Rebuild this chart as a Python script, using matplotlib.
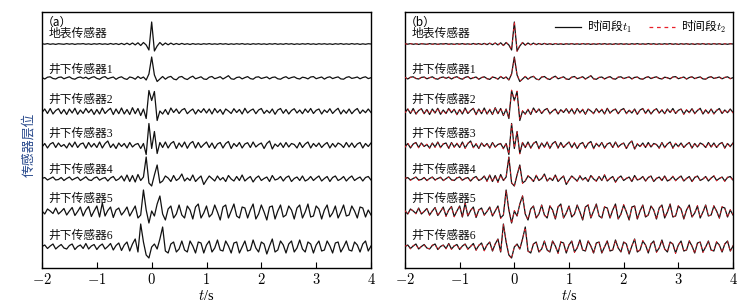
import numpy as np
import matplotlib
matplotlib.use('Agg')
from matplotlib import pyplot as plt
from matplotlib.lines import Line2D
from matplotlib.font_manager import FontProperties

plt.rcParams['font.family'] = ['Liberation Serif', 'Noto Sans CJK SC']
plt.rcParams['mathtext.fontset'] = 'cm'

# sample times (s), one value every 0.05 s from -2 to 4
t = np.linspace(-2, 4, 121)

names = ['地表传感器', '井下传感器1', '井下传感器2', '井下传感器3',
         '井下传感器4', '井下传感器5', '井下传感器6']
xticks = [-2, -1, 0, 1, 2, 3, 4]

# amplitudes, time segment t1 (black)
s0 = [0.3, -0.2, 0.4, -0.3, 0.2, -0.4, 0.3, 0.0, -0.3, 0.4,
      -0.2, 0.3, -0.4, 0.2, 0.0, 0.4, -0.3, 0.2, -0.4, 0.3,
      -0.2, 0.4, -0.3, 0.2, -0.4, 0.5, -0.3, 0.4, -0.5, 0.6,
      -0.6, 0.8, -0.7, 1.0, -0.9, 1.2, -1.5, 1.5, -1.0, -6.0,
      22.0, -7.0, -2.0, 1.5, -1.2, 1.0, -0.8, 0.9, -0.6, 0.5,
      -0.5, 0.6, -0.4, 0.3, -0.5, 0.4, -0.3, 0.2, -0.4, 0.3,
      -0.2, 0.4, -0.3, 0.2, -0.3, 0.4, -0.2, 0.3, -0.4, 0.2,
      -0.3, 0.3, -0.2, 0.4, -0.3, 0.2, -0.4, 0.3, -0.2, 0.3,
      -0.3, 0.2, -0.4, 0.3, -0.2, 0.4, -0.3, 0.2, -0.3, 0.4,
      -0.2, 0.3, -0.4, 0.2, -0.3, 0.3, -0.2, 0.4, -0.3, 0.2,
      -0.4, 0.3, -0.2, 0.3, -0.3, 0.2, -0.4, 0.3, -0.2, 0.4,
      -0.3, 0.2, -0.3, 0.4, -0.2, 0.3, -0.4, 0.2, -0.3, 0.3,
      0.0]
s1 = [0.5, -1.0, 0.8, 1.2, -0.5, -1.0, 0.6, 1.0, -0.8, 0.3,
      1.2, -0.6, -1.2, 0.4, 1.0, -0.3, 0.8, -1.0, 0.5, 1.3,
      -0.4, -1.2, 0.6, 1.4, -0.8, 0.2, 1.0, -1.3, 0.4, 1.2,
      -0.6, -1.4, 1.0, 0.3, -1.2, 1.5, -0.5, 1.0, -2.0, 4.0,
      21.0, 3.0, -3.5, -1.0, 1.5, -1.2, 0.8, 1.6, -1.0, -1.8,
      0.9, 1.5, -0.6, -1.5, 0.5, 1.8, -0.8, 0.2, 1.2, -1.0,
      -1.4, 0.8, 1.5, -0.7, 0.2, 1.3, -1.0, 0.6, 2.3, -0.8,
      -1.3, 0.5, 1.0, -0.9, 0.4, 1.4, -0.6, -1.2, 0.8, 1.2,
      -0.5, 0.3, 1.1, -0.9, 0.6, 1.0, -0.8, -1.2, 0.4, 1.3,
      -0.6, 0.5, 1.2, -0.4, -1.0, 0.8, 0.3, -0.9, 1.0, 1.4,
      -0.7, 0.2, 1.0, -1.1, 0.5, 1.2, -0.6, 0.4, 1.1, -0.9,
      -1.2, 0.6, 1.3, -0.4, 0.2, 1.0, -0.8, 0.5, 1.2, -0.6,
      0.3]
s2 = [-1.0, 2.5, -2.0, 3.0, -2.5, 1.0, 2.8, -2.2, 2.0, -3.0,
      2.5, -1.5, 3.2, -2.8, 1.5, -2.0, 3.0, -1.2, 2.2, -3.0,
      2.0, -2.5, 3.5, -2.0, 1.0, 3.2, -3.0, 2.5, -2.2, 3.5,
      -2.5, 2.0, -3.0, 3.8, -2.2, 3.0, -4.0, 2.5, -7.0, 21.0,
      11.0, 20.0, -9.0, 0.5, -2.5, 2.0, -3.0, 3.5, -1.0, 2.5,
      -2.0, 1.5, 3.0, -2.2, 0.5, 2.5, -2.5, 1.8, -1.0, 2.8,
      -1.5, 2.5, -2.5, 3.0, -1.2, 2.0, -2.8, 2.5, 0.5, -2.0,
      2.8, -1.0, 2.0, -2.5, 3.2, -1.5, 1.0, 2.5, -2.2, 1.5,
      3.0, -2.0, 1.2, -1.5, 2.5, -2.8, 1.5, 3.0, -1.8, 2.0,
      -2.5, 1.0, 2.8, -1.5, 1.5, -2.2, 2.5, -1.0, 3.0, -2.0,
      1.2, 2.5, -2.5, 1.5, -1.0, 2.8, -2.0, 1.0, 3.2, -2.5,
      1.5, -1.8, 2.5, -2.2, 1.0, 3.0, -2.0, 1.5, -1.2, 2.5,
      -1.0]
s3 = [-1.5, 2.0, -2.5, 1.5, 3.0, -2.0, 2.5, -1.0, 1.0, -2.5,
      2.5, -1.5, 3.5, -2.0, 1.5, 2.5, -2.8, 3.0, -1.5, 2.0,
      -2.0, 3.5, -2.5, 2.0, 4.5, -2.0, 1.5, -3.0, 2.5, -1.0,
      2.0, -2.5, 3.0, -1.5, 1.0, 2.0, -3.0, 2.0, -9.0, 22.0,
      -3.0, 14.0, -8.0, 3.0, -2.0, 3.5, -2.5, 2.0, 4.0, -3.0,
      2.5, -1.5, 3.5, -2.8, 2.0, 4.0, -2.5, 3.0, -2.0, 1.0,
      3.5, -2.0, 2.5, -3.0, 1.5, 3.0, -2.5, 2.0, 4.0, -3.0,
      2.0, -1.0, 3.0, -2.5, 1.5, 2.8, -2.0, 3.5, -1.5, 1.0,
      2.5, -3.0, 2.0, 4.5, -3.5, 1.5, -1.0, 2.5, -2.0, 3.0,
      -1.5, 2.0, 1.0, -2.5, 3.0, -2.0, 1.5, 3.5, -2.5, 2.0,
      -1.0, 2.5, -2.0, 1.0, 3.0, -2.5, 2.0, -1.5, 2.5, 1.0,
      -2.0, 3.0, -1.5, 2.5, -2.0, 1.5, 3.0, -2.5, 2.0, -1.0,
      2.5]
s4 = [0.5, 1.5, -1.0, 0.5, 2.0, -1.0, -0.5, 1.5, -1.5, 0.5,
      2.0, -1.0, 0.5, 1.8, -1.5, 0.3, 2.2, -0.8, -1.5, 1.0,
      2.0, -1.2, 0.5, 1.5, -2.0, 1.0, 2.5, -1.5, 0.0, 3.0,
      -2.0, 4.0, -2.5, 3.5, -3.0, 4.5, -1.5, 2.0, 22.0, -4.0,
      -7.0, 4.0, 14.0, -4.0, -2.0, 3.0, 1.0, -2.5, 3.5, -1.5,
      0.5, 5.0, -2.0, 1.0, -1.5, 4.0, -2.5, 0.5, 3.0, -5.5,
      -1.0, 3.0, 0.5, -2.0, 3.0, -1.0, 1.5, -2.5, 3.5, 0.0,
      -2.0, 2.5, -1.5, 4.0, -2.0, 0.5, 2.5, -3.0, 1.0, 3.0,
      -1.5, 0.5, 2.0, -2.5, 3.5, -1.0, 0.0, 2.5, -2.0, 1.5,
      3.0, -2.5, 0.5, 2.0, -1.5, 3.0, -2.0, -0.5, 2.5, -1.5,
      1.0, 3.0, -2.0, 0.5, 2.5, -2.5, 1.5, 3.0, -1.5, 0.0,
      2.5, -2.0, 1.0, 3.0, -1.5, 0.5, 2.0, -2.0, 1.5, 2.5,
      -1.0]
s5 = [1.0, -2.0, 3.0, 1.0, -1.5, 4.0, -2.0, 0.5, 3.5, -3.0,
      1.0, 4.5, -3.5, 0.5, 5.0, -4.0, 2.0, 5.5, -4.5, 1.0,
      6.0, -5.0, 9.0, -4.0, 1.5, 5.0, -5.5, 2.0, 4.0, -3.0,
      0.5, 5.0, -4.0, 1.0, 6.0, -6.0, -3.0, 22.0, 2.0, -11.0,
      1.0, -4.0, 8.0, 16.0, -2.0, -8.0, 3.0, 6.0, -6.0, -2.0,
      7.0, -3.0, -6.0, 6.0, 2.0, -7.0, 5.0, 8.0, -6.0, -1.0,
      6.0, -5.0, -2.0, 7.0, 0.0, -8.0, 5.0, 7.0, -6.0, 1.0,
      8.0, -4.0, -6.0, 5.0, 4.0, -6.0, 2.0, 8.0, -7.0, -2.0,
      7.0, 0.0, -8.0, 5.0, 6.0, -7.0, 1.0, 7.0, -5.0, -3.0,
      6.0, 2.0, -7.0, 4.0, 7.0, -6.0, 0.0, 8.0, -5.0, -4.0,
      6.0, 3.0, -7.0, 2.0, 7.0, -5.0, -1.0, 6.0, -6.0, 0.0,
      7.0, -4.0, -3.0, 6.0, 1.0, -6.0, 5.0, 4.0, -5.0, 2.0,
      -3.0]
s6 = [0.5, 2.0, -1.5, 1.0, 3.0, -2.0, 0.5, 2.5, -1.0, -2.0,
      1.5, 3.0, -2.5, 0.5, 2.0, -1.5, 3.5, -2.0, 1.0, 2.5,
      -2.5, 1.0, 3.0, -2.0, 0.5, 3.5, -3.0, 1.5, 4.0, -3.5,
      2.0, 5.0, -4.0, 3.0, 8.0, -5.0, 23.0, 5.0, -8.0, -11.0,
      0.0, 3.0, -2.0, 8.0, 20.0, -4.0, -6.0, 3.0, 5.0, -5.0,
      -2.0, 6.0, -3.0, -5.0, 6.0, 1.0, -6.0, 5.0, 4.0, -6.0,
      2.0, 6.0, -5.0, -1.0, 7.0, -3.0, -4.0, 6.0, 1.0, -6.0,
      4.0, 5.0, -6.0, 0.0, 6.0, -4.0, -3.0, 7.0, -1.0, -5.0,
      5.0, 3.0, -7.0, 1.0, 8.0, -5.0, -3.0, 6.0, 2.0, -6.0,
      3.0, 6.0, -5.0, -1.0, 7.0, -2.0, -5.0, 5.0, 3.0, -6.0,
      2.0, 6.0, -4.0, -3.0, 6.0, 1.0, -6.0, 4.0, 5.0, -5.0,
      0.0, 6.0, -3.0, -4.0, 5.0, 2.0, -5.0, 3.0, 6.0, -4.0,
      1.0]

# time segment t2 (red dashed)
r0 = [0.2, -0.3, 0.4, -0.2, 0.3, -0.4, 0.2, 0.1, -0.3, 0.3,
      -0.3, 0.3, -0.3, 0.2, -0.1, 0.4, -0.3, 0.3, -0.4, 0.2,
      -0.3, 0.4, -0.2, 0.3, -0.4, 0.4, -0.3, 0.5, -0.5, 0.5,
      -0.7, 0.8, -0.6, 1.0, -1.0, 1.1, -1.4, 1.6, -1.2, -5.5,
      22.5, -7.5, -1.5, 1.4, -1.0, 1.1, -0.7, 0.8, -0.7, 0.6,
      -0.4, 0.5, -0.5, 0.3, -0.4, 0.5, -0.3, 0.3, -0.4, 0.2,
      -0.3, 0.3, -0.4, 0.3, -0.2, 0.4, -0.3, 0.3, -0.3, 0.3,
      -0.2, 0.4, -0.3, 0.3, -0.4, 0.3, -0.3, 0.2, -0.3, 0.4,
      -0.2, 0.3, -0.3, 0.2, -0.3, 0.3, -0.4, 0.3, -0.2, 0.3,
      -0.3, 0.2, -0.3, 0.3, -0.4, 0.2, -0.3, 0.3, -0.2, 0.3,
      -0.3, 0.4, -0.3, 0.2, -0.2, 0.3, -0.3, 0.2, -0.3, 0.3,
      -0.2, 0.3, -0.4, 0.3, -0.3, 0.2, -0.3, 0.3, -0.2, 0.2,
      0.0]
r1 = [0.8, -1.2, 0.5, 1.4, -0.3, -1.2, 0.9, 0.8, -1.0, 0.5,
      1.0, -0.8, -1.0, 0.7, 0.8, -0.5, 1.1, -0.8, 0.3, 1.5,
      -0.2, -1.4, 0.9, 1.2, -1.0, 0.5, 0.8, -1.1, 0.7, 1.0,
      -0.9, -1.2, 1.3, 0.0, -1.0, 1.7, -0.8, 1.2, -1.8, 4.5,
      20.5, 3.5, -3.0, -1.3, 1.7, -0.9, 0.6, 1.9, -1.3, -1.5,
      1.2, 1.2, -0.9, -1.3, 0.8, 1.5, -0.5, 0.5, 0.9, -1.3,
      -1.1, 1.0, 1.2, -0.4, 0.5, 1.0, -1.3, 0.9, 2.0, -1.1,
      -1.0, 0.8, 0.7, -1.2, 0.7, 1.1, -0.9, -0.9, 1.1, 0.9,
      -0.8, 0.6, 0.8, -1.2, 0.9, 0.7, -1.1, -0.9, 0.7, 1.0,
      -0.3, 0.8, 0.9, -0.7, -0.7, 1.1, 0.0, -1.2, 1.3, 1.1,
      -1.0, 0.5, 0.7, -0.8, 0.8, 0.9, -0.9, 0.7, 0.8, -1.2,
      -0.9, 0.9, 1.0, -0.7, 0.5, 0.7, -1.1, 0.8, 0.9, -0.9,
      0.5]
r2 = [-1.5, 3.0, -1.5, 2.5, -3.0, 1.5, 2.3, -2.7, 2.5, -2.5,
      2.0, -2.0, 3.6, -2.3, 1.0, -2.5, 3.4, -0.8, 1.8, -3.4,
      2.4, -2.0, 3.0, -2.5, 1.5, 2.8, -3.4, 2.9, -1.8, 3.0,
      -3.0, 2.5, -2.6, 3.3, -2.7, 3.5, -3.5, 2.0, -6.5, 21.5,
      10.5, 20.5, -8.5, 1.0, -3.0, 2.5, -2.5, 3.0, -1.5, 3.0,
      -2.5, 2.0, 2.5, -2.7, 1.0, 2.0, -3.0, 2.3, -0.5, 2.3,
      -2.0, 3.0, -2.0, 2.5, -1.7, 2.5, -2.3, 2.0, 1.0, -2.5,
      2.3, -1.5, 2.5, -2.0, 2.7, -2.0, 1.5, 2.0, -2.7, 2.0,
      2.5, -2.5, 1.7, -1.0, 2.0, -3.3, 2.0, 2.5, -2.3, 2.5,
      -2.0, 1.5, 2.3, -2.0, 2.0, -1.7, 2.0, -1.5, 2.5, -2.5,
      1.7, 2.0, -3.0, 2.0, -1.5, 2.3, -2.5, 1.5, 2.7, -2.0,
      2.0, -2.3, 2.0, -2.7, 1.5, 2.5, -2.5, 2.0, -1.7, 2.0,
      -1.5]
r3 = [-2.0, 2.5, -2.0, 2.0, 2.5, -2.5, 3.0, -1.5, 1.5, -3.0,
      2.0, -2.0, 3.0, -2.5, 2.0, 2.0, -3.3, 2.5, -2.0, 2.5,
      -1.5, 3.0, -3.0, 2.5, 4.0, -2.5, 2.0, -2.5, 2.0, -1.5,
      2.5, -3.0, 2.5, -2.0, 1.5, 1.5, -3.5, 2.5, -8.5, 21.5,
      -2.5, 14.5, -8.5, 3.5, -2.5, 3.0, -3.0, 2.5, 3.5, -3.5,
      2.0, -2.0, 3.0, -3.3, 2.5, 3.5, -3.0, 2.5, -2.5, 1.5,
      3.0, -2.5, 3.0, -2.5, 2.0, 2.5, -3.0, 2.5, 3.5, -3.5,
      2.5, -1.5, 2.5, -3.0, 2.0, 2.3, -2.5, 3.0, -2.0, 1.5,
      2.0, -3.5, 2.5, 4.0, -4.0, 2.0, -1.5, 2.0, -2.5, 2.5,
      -2.0, 2.5, 0.5, -3.0, 2.5, -2.5, 2.0, 3.0, -3.0, 2.5,
      -1.5, 2.0, -2.5, 1.5, 2.5, -3.0, 2.5, -2.0, 2.0, 1.5,
      -2.5, 2.5, -2.0, 2.0, -2.5, 2.0, 2.5, -3.0, 2.5, -1.5,
      2.0]
r4 = [1.0, 1.0, -1.5, 1.0, 1.5, -1.5, 0.0, 1.0, -2.0, 1.0,
      1.5, -1.5, 1.0, 1.3, -2.0, 0.8, 1.7, -1.3, -1.0, 1.5,
      1.5, -1.7, 1.0, 1.0, -2.5, 1.5, 2.0, -2.0, 0.5, 2.5,
      -2.5, 3.5, -3.0, 3.0, -3.5, 4.0, -2.0, 2.5, 21.5, -3.5,
      -7.5, 4.5, 13.5, -4.5, -1.5, 3.5, 0.5, -3.0, 4.0, -1.0,
      1.0, 4.5, -2.5, 1.5, -1.0, 4.5, -2.0, 1.0, 2.5, -5.0,
      -1.5, 3.5, 0.0, -2.5, 3.5, -0.5, 1.0, -2.0, 4.0, 0.5,
      -2.5, 2.0, -1.0, 4.5, -2.5, 1.0, 2.0, -3.5, 1.5, 2.5,
      -1.0, 1.0, 1.5, -3.0, 3.0, -1.5, 0.5, 2.0, -2.5, 2.0,
      2.5, -2.0, 1.0, 1.5, -2.0, 3.5, -1.5, -1.0, 3.0, -2.0,
      1.5, 2.5, -2.5, 1.0, 2.0, -3.0, 2.0, 2.5, -1.0, -0.5,
      3.0, -1.5, 0.5, 3.5, -2.0, 1.0, 1.5, -2.5, 2.0, 2.0,
      -1.5]
r5 = [1.5, -2.5, 2.5, 1.5, -2.0, 3.5, -2.5, 1.0, 3.0, -3.5,
      1.5, 4.0, -4.0, 1.0, 4.5, -4.5, 2.5, 5.0, -5.0, 1.5,
      5.5, -5.5, 8.5, -4.5, 2.0, 4.5, -6.0, 2.5, 3.5, -3.5,
      1.0, 4.5, -4.5, 1.5, 5.5, -6.5, -2.5, 21.5, 2.5, -11.5,
      1.5, -3.5, 7.5, 16.5, -2.5, -7.5, 3.5, 5.5, -6.5, -1.5,
      6.5, -3.5, -5.5, 6.5, 1.5, -7.5, 5.5, 7.5, -5.5, -1.5,
      6.5, -4.5, -2.5, 6.5, 0.5, -7.5, 4.5, 7.5, -6.5, 1.5,
      7.5, -4.5, -5.5, 5.5, 3.5, -6.5, 2.5, 7.5, -6.5, -2.5,
      7.5, 0.5, -7.5, 4.5, 6.5, -7.5, 1.5, 6.5, -5.5, -2.5,
      5.5, 2.5, -7.5, 4.5, 6.5, -5.5, 0.5, 7.5, -5.5, -3.5,
      6.5, 2.5, -6.5, 2.5, 6.5, -5.5, -0.5, 6.5, -5.5, -0.5,
      6.5, -3.5, -3.5, 6.5, 0.5, -6.5, 5.5, 3.5, -5.5, 2.5,
      -2.5]
r6 = [1.0, 1.5, -2.0, 1.5, 2.5, -2.5, 1.0, 2.0, -1.5, -1.5,
      2.0, 2.5, -3.0, 1.0, 1.5, -2.0, 3.0, -2.5, 1.5, 2.0,
      -3.0, 1.5, 2.5, -2.5, 1.0, 3.0, -3.5, 2.0, 3.5, -4.0,
      2.5, 4.5, -4.5, 3.5, 7.5, -5.5, 22.5, 5.5, -8.5, -11.5,
      0.5, 2.5, -2.5, 8.5, 19.5, -4.5, -5.5, 3.5, 4.5, -5.5,
      -1.5, 5.5, -3.5, -4.5, 6.5, 0.5, -6.5, 5.5, 3.5, -5.5,
      2.5, 5.5, -5.5, -0.5, 6.5, -3.5, -3.5, 6.5, 0.5, -6.5,
      4.5, 4.5, -5.5, 0.5, 6.5, -4.5, -2.5, 6.5, -1.5, -4.5,
      4.5, 3.5, -6.5, 1.5, 7.5, -5.5, -2.5, 6.5, 1.5, -5.5,
      3.5, 5.5, -5.5, -0.5, 6.5, -2.5, -4.5, 5.5, 2.5, -6.5,
      2.5, 5.5, -4.5, -2.5, 6.5, 0.5, -6.5, 4.5, 4.5, -5.5,
      0.5, 5.5, -3.5, -3.5, 5.5, 1.5, -5.5, 3.5, 5.5, -4.5,
      1.5]

seg1 = [s0, s1, s2, s3, s4, s5, s6]
seg2 = [r0, r1, r2, r3, r4, r5, r6]

# layout (y axis in pixel-like units, 0..256)
base = [224, 190, 156.5, 122.5, 89, 56, 21]
label_y = [234, 198, 168, 134, 98, 69, 32]
red = '#e8202a'

fig = plt.figure(figsize=(7.53, 3.06), dpi=100)
ax1 = fig.add_axes([42/753, 38/306, 329/753, 256/306])
ax2 = fig.add_axes([405/753, 38/306, 328/753, 256/306])

def draw(ax, tag, both):
	for i in range(7):
		ax.plot(t, base[i] + np.array(seg1[i]), color='#111111', lw=0.9, zorder=2)
		if both:
			ax.plot(t, base[i] + np.array(seg2[i]), color=red, lw=0.6,
				ls=(0, (3, 3.5)), zorder=3)
		ax.text(0.02, label_y[i]/256, names[i], transform=ax.transAxes,
			va='center', ha='left', fontsize=8.5, color='#111111')
	ax.text(0.0, 246/256, tag, transform=ax.transAxes, va='center', ha='left',
		fontsize=8.5, family=['Noto Sans CJK SC', 'Liberation Serif'])
	ax.set_xlim(-2, 4)
	ax.set_ylim(0, 256)
	ax.set_yticks([])
	ax.set_xticks(xticks, labels=['$%d$' % v for v in xticks], fontsize=10.5)
	ax.tick_params(axis='x', direction='in', length=4, width=0.8, pad=3)
	ax.set_xlabel('$t$/s', fontsize=10.5, labelpad=1)
	for sp in ax.spines.values():
		sp.set_linewidth(1.0)

draw(ax1, '（a）', False)
draw(ax2, '（b）', True)

ax1.set_ylabel('传感器层位', fontsize=9.3, color='#2a4b8d')
ax1.yaxis.set_label_coords(-0.02, 0.48)

handles = [Line2D([], [], color='#111111', lw=0.9),
	Line2D([], [], color=red, lw=0.9, ls=(0, (3, 3)))]
legprop = FontProperties(family='Noto Sans CJK SC', size=8.5)
ax2.legend(handles, ['时间段$t_1$', '时间段$t_2$'], loc='upper right', ncol=2,
	frameon=False, prop=legprop, handlelength=2.2, handletextpad=0.5,
	columnspacing=1.4, borderaxespad=0.2)

fig.savefig('out.png', dpi=100)
